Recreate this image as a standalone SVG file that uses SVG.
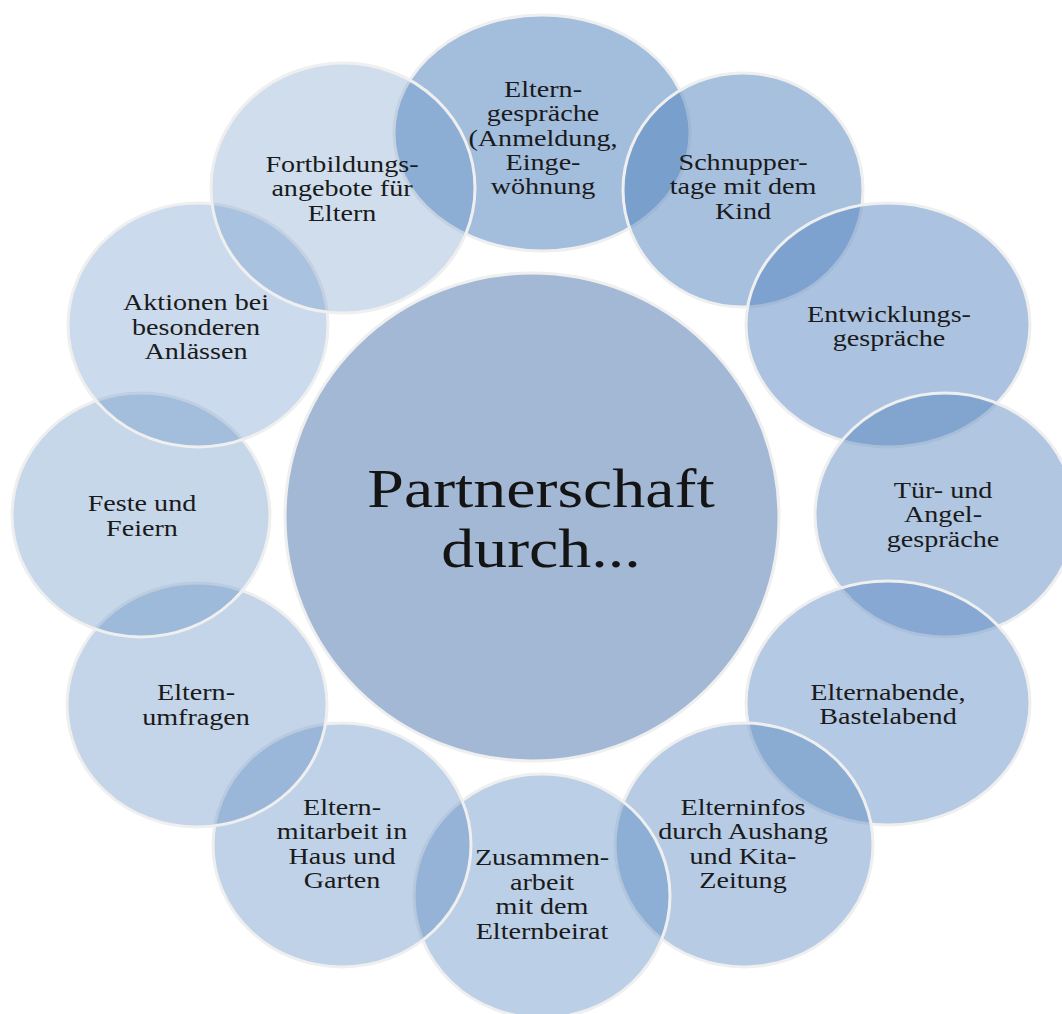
<svg xmlns="http://www.w3.org/2000/svg" width="1062" height="1014" viewBox="0 0 1062 1014">
<style>
.c{fill:#4f81bd;stroke:#efefef;stroke-width:3}
.t{font-family:"Liberation Serif","Times New Roman",serif;font-size:22.5px;fill:#1a1a1a;text-anchor:middle}
.m{font-family:"Liberation Serif","Times New Roman",serif;font-size:54px;fill:#141414;text-anchor:middle}
</style>
<rect width="1062" height="1014" fill="#ffffff"/>
<g id="connectors"></g>
<g id="center">
<ellipse cx="532" cy="517" rx="247" ry="244" fill="#a3b8d5" stroke="#efefef" stroke-width="3"/>
<text class="m" transform="translate(541 0) scale(1.22 1)"><tspan x="0" y="507">Partnerschaft</tspan><tspan x="0" y="567">durch...</tspan></text>
</g>
<g id="n1">
<ellipse class="c" cx="542" cy="133" rx="148" ry="118" fill-opacity="0.52"/>
<text class="t" transform="translate(543 0) scale(1.25 1)"><tspan x="0" y="97">Eltern-</tspan><tspan x="0" y="121.3">gespräche</tspan><tspan x="0" y="145.6">(Anmeldung,</tspan><tspan x="0" y="169.9">Einge-</tspan><tspan x="0" y="194.2">wöhnung</tspan></text>
</g>
<g id="n2">
<ellipse class="c" cx="743" cy="190" rx="120" ry="117" fill-opacity="0.497"/>
<text class="t" transform="translate(743 0) scale(1.25 1)"><tspan x="0" y="170">Schnupper-</tspan><tspan x="0" y="194.5">tage mit dem</tspan><tspan x="0" y="219">Kind</tspan></text>
</g>
<g id="n3">
<ellipse class="c" cx="888" cy="325" rx="142" ry="122" fill-opacity="0.475"/>
<text class="t" transform="translate(889 0) scale(1.25 1)"><tspan x="0" y="322">Entwicklungs-</tspan><tspan x="0" y="346.5">gespräche</tspan></text>
</g>
<g id="n4">
<ellipse class="c" cx="945" cy="515" rx="130" ry="122" fill-opacity="0.452"/>
<text class="t" transform="translate(943 0) scale(1.25 1)"><tspan x="0" y="498">Tür- und</tspan><tspan x="0" y="522.5">Angel-</tspan><tspan x="0" y="547">gespräche</tspan></text>
</g>
<g id="n5">
<ellipse class="c" cx="888" cy="703" rx="142" ry="122" fill-opacity="0.429"/>
<text class="t" transform="translate(888 0) scale(1.25 1)"><tspan x="0" y="700">Elternabende,</tspan><tspan x="0" y="724.5">Bastelabend</tspan></text>
</g>
<g id="n6">
<ellipse class="c" cx="744" cy="845" rx="129" ry="122" fill-opacity="0.406"/>
<text class="t" transform="translate(743 0) scale(1.25 1)"><tspan x="0" y="815">Elterninfos</tspan><tspan x="0" y="839.5">durch Aushang</tspan><tspan x="0" y="864">und Kita-</tspan><tspan x="0" y="888.5">Zeitung</tspan></text>
</g>
<g id="n7">
<ellipse class="c" cx="542" cy="896" rx="128" ry="122" fill-opacity="0.384"/>
<text class="t" transform="translate(542 0) scale(1.25 1)"><tspan x="0" y="865.5">Zusammen-</tspan><tspan x="0" y="890">arbeit</tspan><tspan x="0" y="914.5">mit dem</tspan><tspan x="0" y="939">Elternbeirat</tspan></text>
</g>
<g id="n8">
<ellipse class="c" cx="342" cy="845" rx="129" ry="122" fill-opacity="0.361"/>
<text class="t" transform="translate(342 0) scale(1.25 1)"><tspan x="0" y="815">Eltern-</tspan><tspan x="0" y="839.5">mitarbeit in</tspan><tspan x="0" y="864">Haus und</tspan><tspan x="0" y="888.5">Garten</tspan></text>
</g>
<g id="n9">
<ellipse class="c" cx="197" cy="705" rx="130" ry="122" fill-opacity="0.338"/>
<text class="t" transform="translate(196 0) scale(1.25 1)"><tspan x="0" y="700.5">Eltern-</tspan><tspan x="0" y="725">umfragen</tspan></text>
</g>
<g id="n10">
<ellipse class="c" cx="141" cy="515" rx="129" ry="122" fill-opacity="0.316"/>
<text class="t" transform="translate(142 0) scale(1.25 1)"><tspan x="0" y="511.5">Feste und</tspan><tspan x="0" y="536">Feiern</tspan></text>
</g>
<g id="n11">
<ellipse class="c" cx="198" cy="325" rx="130" ry="122" fill-opacity="0.293"/>
<text class="t" transform="translate(196 0) scale(1.25 1)"><tspan x="0" y="310.5">Aktionen bei</tspan><tspan x="0" y="335">besonderen</tspan><tspan x="0" y="359.5">Anlässen</tspan></text>
</g>
<g id="n12">
<ellipse class="c" cx="343" cy="188" rx="132" ry="125" fill-opacity="0.27"/>
<text class="t" transform="translate(342 0) scale(1.25 1)"><tspan x="0" y="172">Fortbildungs-</tspan><tspan x="0" y="196.5">angebote für</tspan><tspan x="0" y="221">Eltern</tspan></text>
</g>
</svg>
